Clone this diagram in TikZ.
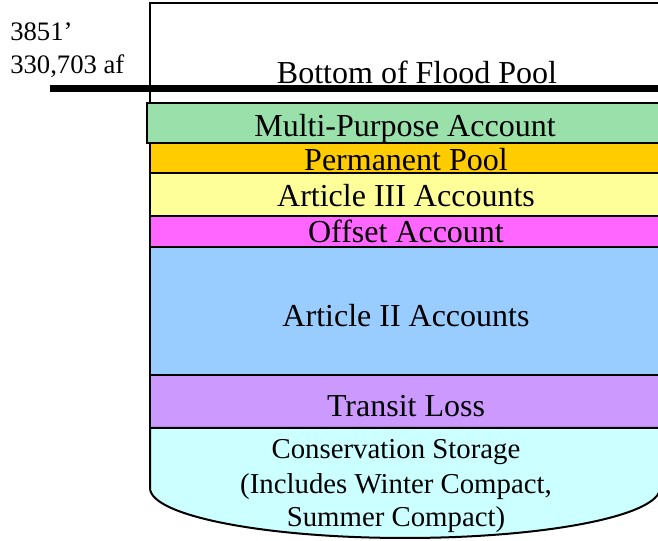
\documentclass[tikz,border=0pt]{standalone}
\usepackage{fontspec}
\setmainfont{Liberation Serif}

\def\floodbox{(150,538) rectangle (665,438)}
\def\multibox{(147,438) rectangle (665,398)}
\def\permbox{(150,398) rectangle (665,368)}
\def\artthreebox{(150,368) rectangle (665,325)}
\def\offsetbox{(150,325) rectangle (665,293.5)}
\def\arttwobox{(150,293.5) rectangle (665,166)}
\def\transitbox{(150,166) rectangle (665,113)}
\def\consbox{(150,113) -- (150,53) arc[start angle=180, end angle=360, x radius=255, y radius=50] -- (665,53) -- (665,113) -- cycle}

\definecolor{multigreen}{HTML}{99E0AA}
\definecolor{permorange}{HTML}{FFCC00}
\definecolor{artyellow}{HTML}{FFFF99}
\definecolor{offsetpink}{HTML}{FF66FF}
\definecolor{artblue}{HTML}{99CCFF}
\definecolor{transitpurple}{HTML}{CC99FF}
\definecolor{conscyan}{HTML}{CCFFFF}

\begin{document}
\begin{tikzpicture}[x=0.75pt, y=0.75pt,
    layer/.style={line width=1.5pt, draw=black},
    label/.style={anchor=base, font=\fontsize{24}{28}\selectfont, inner sep=0pt}]
  \useasboundingbox (0,0) rectangle (658,541);
  \clip (0,0) rectangle (658,541);
  \draw[layer, fill=white] \floodbox;
  \draw[line width=5pt] (50,452.5) -- (665,452.5);
  \draw[layer, line width=2.2pt, fill=multigreen] \multibox;
  \draw[layer, fill=permorange] \permbox;
  \draw[layer, fill=artyellow] \artthreebox;
  \draw[layer, fill=offsetpink] \offsetbox;
  \draw[layer, fill=artblue] \arttwobox;
  \draw[layer, fill=transitpurple] \transitbox;
  \draw[layer, fill=conscyan] \consbox;
  % labels
  \node[label] (flood) at (417,457.5) {Bottom of Flood Pool};
  \node[label] (multi) at (405,404.5) {Multi-Purpose Account};
  \node[label] (perm) at (406,370.5) {Permanent Pool};
  \node[label] (artthree) at (406,334.5) {Article III Accounts};
  \node[label] (offset) at (406,298) {Offset Account};
  \node[label] (arttwo) at (406,214.5) {Article II Accounts};
  \node[label] (transit) at (406,124.5) {Transit Loss};
  \node[label, font=\fontsize{21.6}{26}\selectfont] (consA) at (396,82.5) {Conservation Storage};
  \node[label, font=\fontsize{21.6}{26}\selectfont] (consB) at (396,47.5) {(Includes Winter Compact,};
  \node[label, font=\fontsize{21.6}{26}\selectfont] (consC) at (396,14.5) {Summer Compact)};
  \node[anchor=base west, inner sep=0pt, font=\fontsize{20}{26}\selectfont] (elev) at (10,500) {3851’};
  \node[anchor=base west, inner sep=0pt, font=\fontsize{20}{26}\selectfont] (vol) at (10,467) {330,703 af};
\end{tikzpicture}
\end{document}
